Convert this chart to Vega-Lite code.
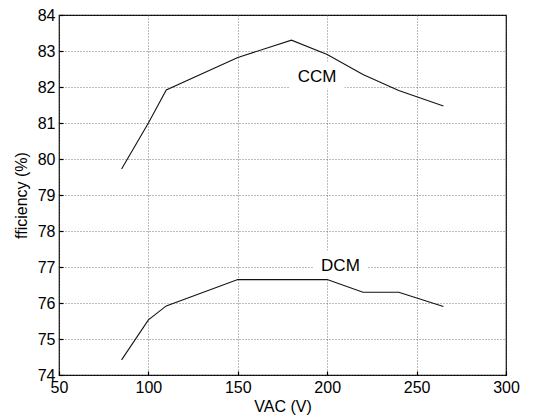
{
  "$schema": "https://vega.github.io/schema/vega-lite/v6.json",
  "width": 447,
  "height": 360,
  "autosize": "none",
  "padding": {"left": 59, "top": 15, "right": 27, "bottom": 44},
  "background": "white",
  "config": {
    "font": "Liberation Sans",
    "view": {"stroke": "black", "strokeWidth": 1.2},
    "axis": {
      "labelFont": "Liberation Sans",
      "titleFont": "Liberation Sans",
      "labelFontSize": 16,
      "titleFontSize": 16,
      "labelColor": "black",
      "titleColor": "black",
      "titleFontWeight": "normal",
      "labelFlush": false,
      "domain": false,
      "grid": true,
      "gridColor": "#555",
      "gridDash": [1, 2],
      "gridOpacity": 0.8,
      "tickColor": "black",
      "tickWidth": 1.2,
      "tickSize": -4,
      "labelPadding": 8
    }
  },
  "datasets": {
    "curves": [
      {"mode": "CCM", "vac": 85, "eff": 79.72},
      {"mode": "CCM", "vac": 100, "eff": 81.0},
      {"mode": "CCM", "vac": 110, "eff": 81.92},
      {"mode": "CCM", "vac": 150, "eff": 82.82},
      {"mode": "CCM", "vac": 180, "eff": 83.3},
      {"mode": "CCM", "vac": 200, "eff": 82.9},
      {"mode": "CCM", "vac": 220, "eff": 82.35},
      {"mode": "CCM", "vac": 240, "eff": 81.9},
      {"mode": "CCM", "vac": 265, "eff": 81.47},
      {"mode": "DCM", "vac": 85, "eff": 74.42},
      {"mode": "DCM", "vac": 100, "eff": 75.53},
      {"mode": "DCM", "vac": 110, "eff": 75.92},
      {"mode": "DCM", "vac": 150, "eff": 76.65},
      {"mode": "DCM", "vac": 200, "eff": 76.65},
      {"mode": "DCM", "vac": 220, "eff": 76.3},
      {"mode": "DCM", "vac": 240, "eff": 76.3},
      {"mode": "DCM", "vac": 265, "eff": 75.9}
    ],
    "labels": [
      {"label": "CCM", "vac": 194.3, "eff": 82.28},
      {"label": "DCM", "vac": 207.4, "eff": 77.03}
    ]
  },
  "layer": [
    {
      "data": {"name": "labels"},
      "mark": {"type": "point", "shape": "M-1,-0.49H1V0.49H-1Z", "size": 3025, "filled": true, "color": "white", "opacity": 1, "dx": 2, "yOffset": -2},
      "encoding": {
        "x": {
          "field": "vac", "type": "quantitative",
          "scale": {"domain": [50, 300], "nice": false, "zero": false},
          "axis": {"values": [50, 100, 150, 200, 250, 300], "tickCount": 6, "title": "VAC (V)", "titlePadding": 3, "labelOverlap": false}
        },
        "y": {
          "field": "eff", "type": "quantitative",
          "scale": {"domain": [74, 84], "nice": false, "zero": false},
          "axis": {"values": [74, 75, 76, 77, 78, 79, 80, 81, 82, 83, 84], "tickCount": 11, "title": "fficiency (%)", "titlePadding": 8, "labelOverlap": false}
        }
      }
    },
    {
      "data": {"name": "curves"},
      "mark": {"type": "line", "color": "#1a1010", "strokeWidth": 1.1},
      "encoding": {
        "x": {"field": "vac", "type": "quantitative"},
        "y": {"field": "eff", "type": "quantitative"},
        "detail": {"field": "mode"}
      }
    },
    {
      "data": {"name": "labels"},
      "mark": {"type": "text", "fontSize": 17, "font": "Liberation Sans", "color": "black"},
      "encoding": {
        "x": {"field": "vac", "type": "quantitative"},
        "y": {"field": "eff", "type": "quantitative"},
        "text": {"field": "label"}
      }
    }
  ]
}
